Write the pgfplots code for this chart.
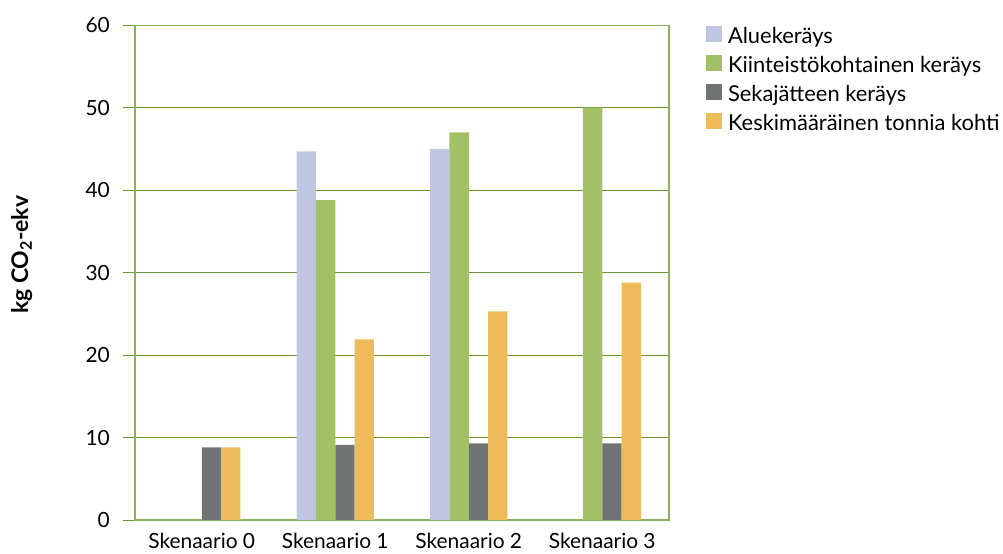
\documentclass[border=0pt]{standalone}
\usepackage{fontspec}
\setmainfont{Lato}
\usepackage{pgfplots}
\pgfplotsset{compat=1.18}
\definecolor{cAlue}{RGB}{192,198,226}
\definecolor{cKiint}{RGB}{162,193,103}
\definecolor{cSeka}{RGB}{113,114,116}
\definecolor{cKesk}{RGB}{237,187,90}
\definecolor{cGrid}{RGB}{110,150,50}
\definecolor{cAxis}{RGB}{140,176,90}
\begin{document}
\begin{tikzpicture}
\useasboundingbox (0,0) rectangle (1003bp,554bp);
\begin{axis}[
  at={(135bp,34bp)}, anchor=south west,
  scale only axis, width=534bp, height=494.7bp,
  ybar=0pt, bar width=19.3bp,
  xmin=-0.5, xmax=3.5, ymin=0, ymax=60,
  xtick={0,1,2,3},
  xticklabels={Skenaario 0,Skenaario 1,Skenaario 2,Skenaario 3},
  ytick={0,10,...,60},
  ytick pos=left, tick align=outside, major tick length=12bp,
  xtick style={draw=none},
  ytick style={cGrid, line width=1pt},
  ymajorgrids, grid style={cGrid, line width=1pt},
  axis line style={cAxis, line width=1.2pt},
  /pgf/number format/assume math mode=true,
  xticklabel style={font=\fontsize{21}{23}\selectfont, anchor=base, inner sep=0pt, yshift=-16.5bp},
  yticklabel style={font=\fontsize{21}{23}\selectfont, anchor=east, inner sep=0pt, xshift=-13bp},
  ylabel={\textbf{kg CO\textsubscript{2}-ekv}},
  ylabel style={at={(axis description cs:-0.212,0.536)}, anchor=center, font=\fontsize{23}{25}\selectfont},
  legend image code/.code={\fill[#1] (0bp,-1bp) rectangle (15.5bp,14.5bp);},
  legend cell align=left,
  legend style={draw=none, fill=none, inner sep=0pt,
    at={(rel axis cs:1,1)}, anchor=north west, xshift=37bp, yshift=-1bp,
    font=\fontsize{22}{24}\selectfont, row sep=0pt,
    nodes={inner xsep=0pt, inner ysep=0pt, text height=17bp, text depth=11.7bp},
    /tikz/every odd column/.append style={column sep=6.3bp}},
]
\addplot[fill=cAlue, draw=none] coordinates {(1,44.7) (2,45.0)};
\addplot[fill=cKiint, draw=none] coordinates {(1,38.8) (2,47.0) (3,50.0)};
\addplot[fill=cSeka, draw=none] coordinates {(0,8.8) (1,9.1) (2,9.3) (3,9.3)};
\addplot[fill=cKesk, draw=none] coordinates {(0,8.8) (1,21.9) (2,25.3) (3,28.8)};
\legend{Aluekeräys,Kiinteistökohtainen keräys,Sekajätteen keräys,Keskimääräinen tonnia kohti}
\end{axis}
\end{tikzpicture}
\end{document}
